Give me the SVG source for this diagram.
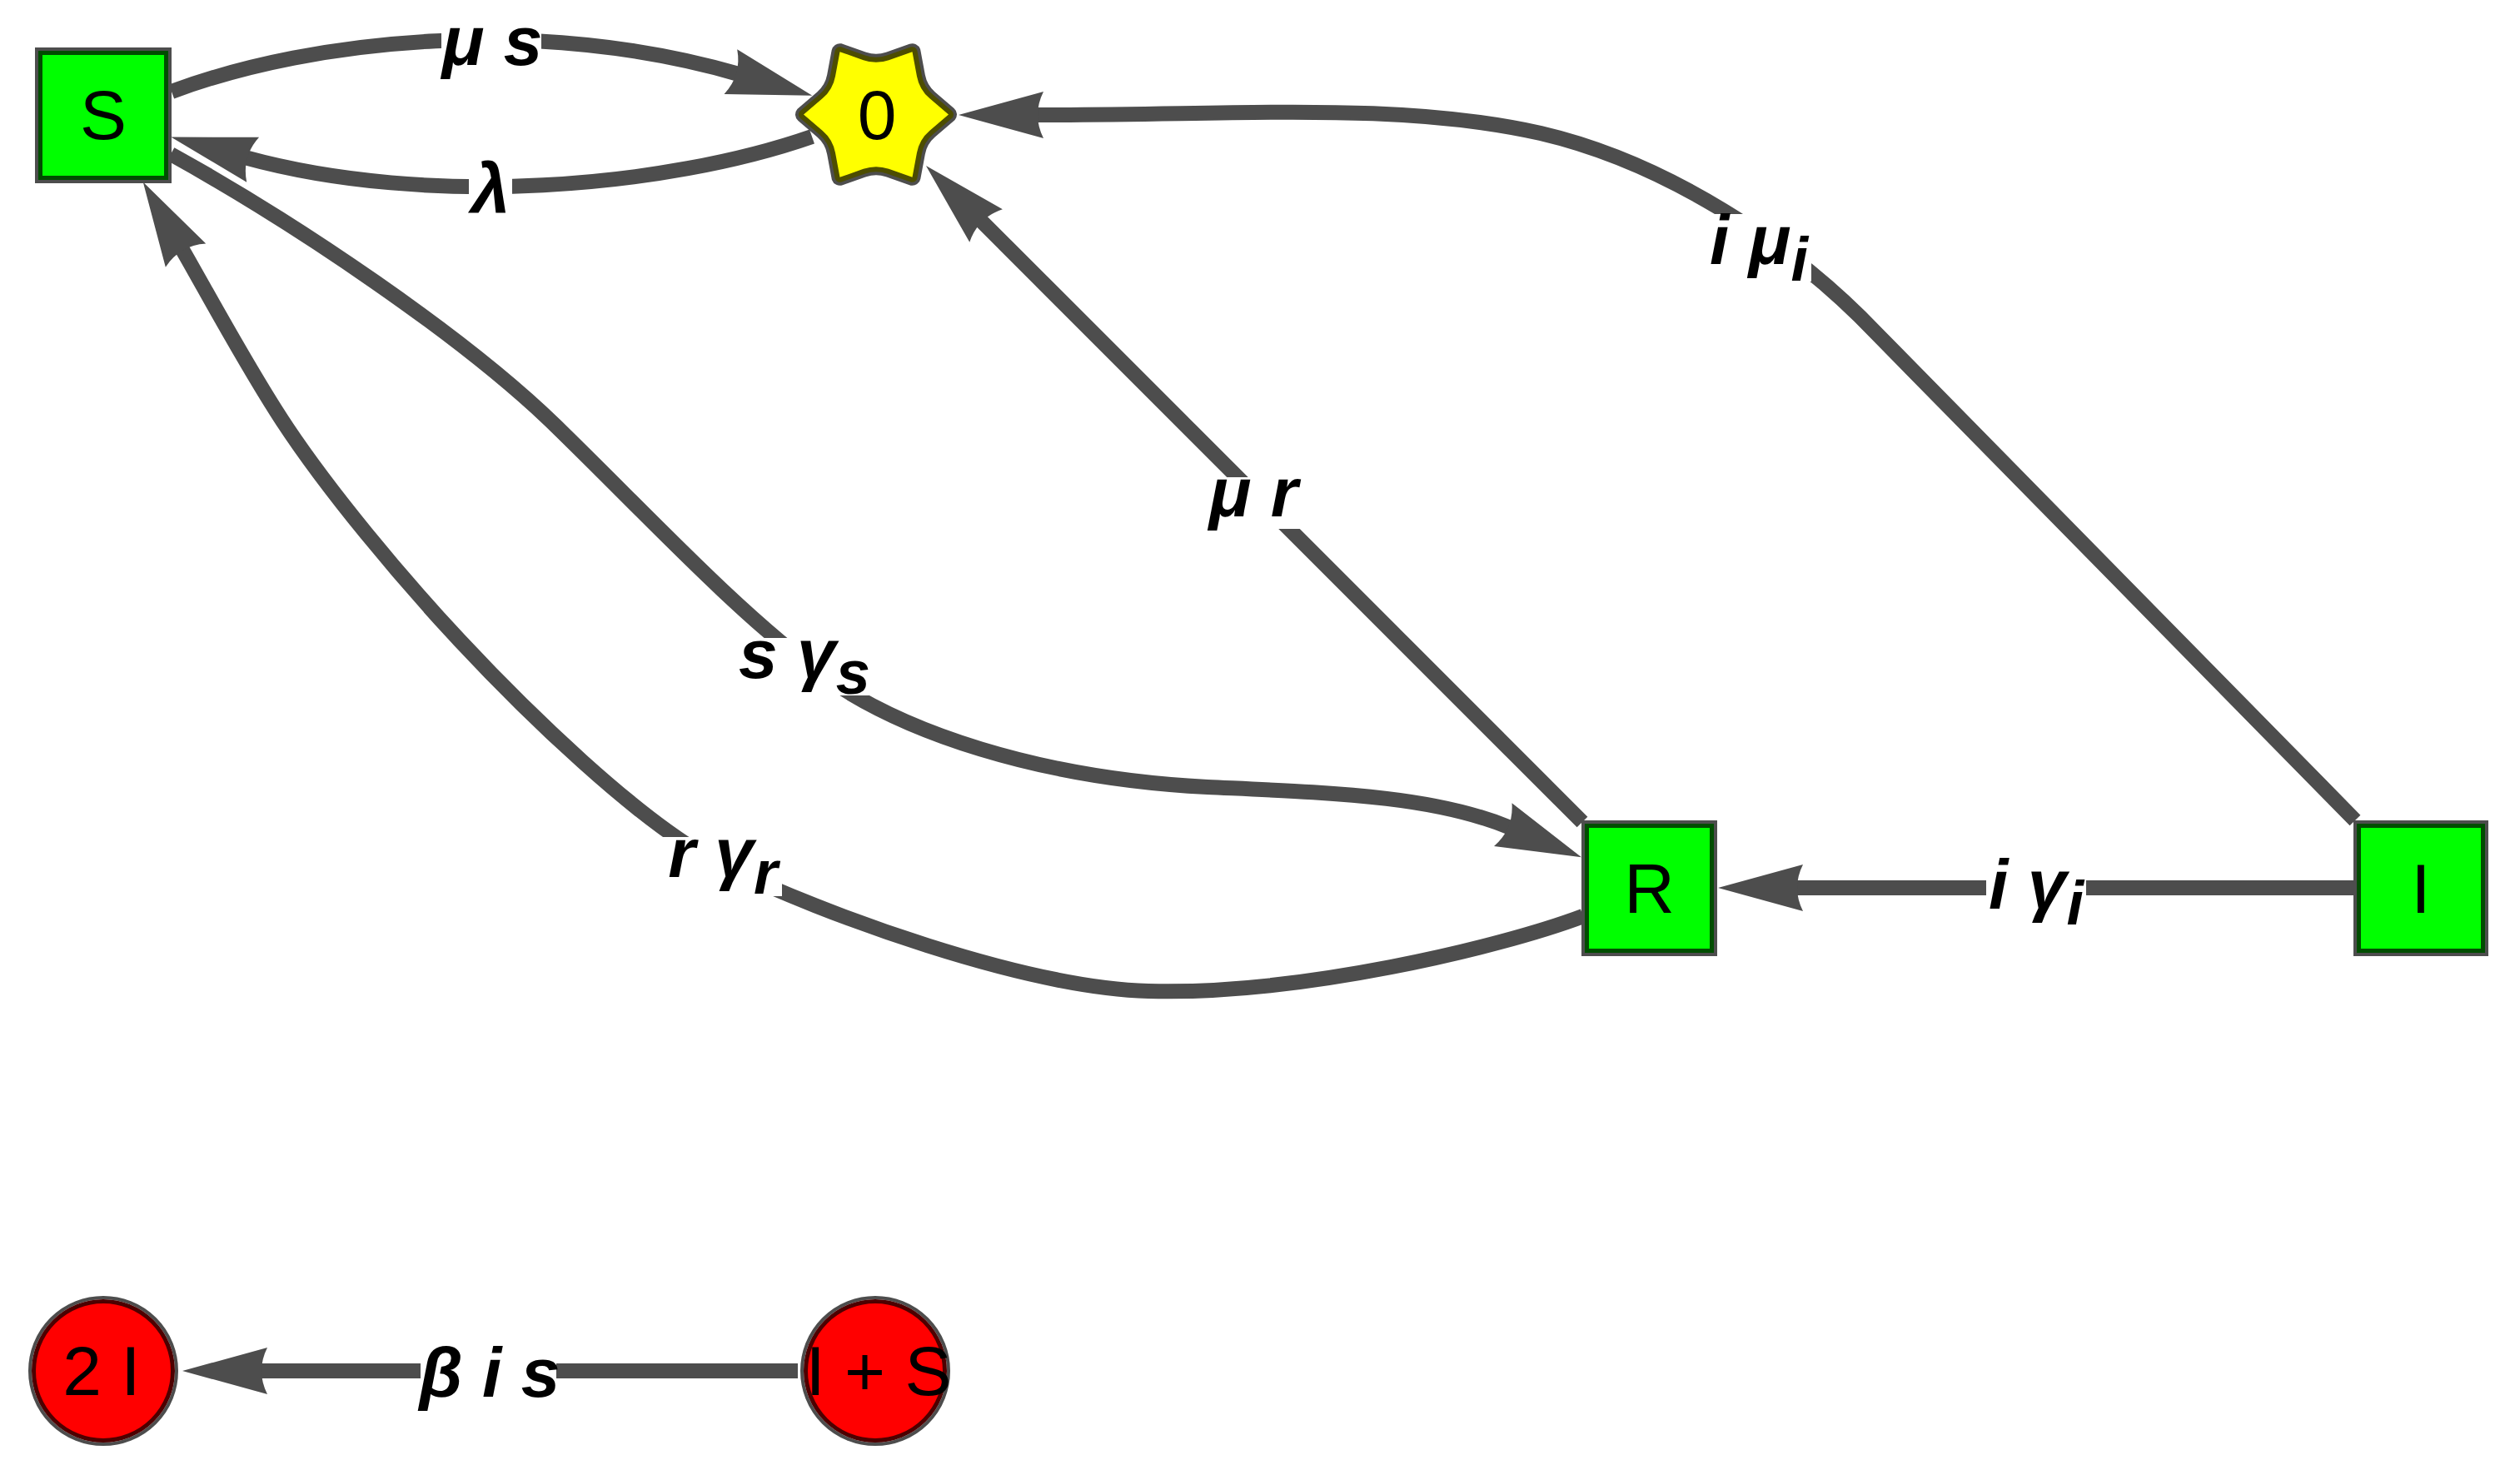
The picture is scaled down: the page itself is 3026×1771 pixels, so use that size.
<svg xmlns="http://www.w3.org/2000/svg" width="3026" height="1771" viewBox="0 0 3026 1771">
<style>
.edge{fill:none;stroke:#4d4d4d;stroke-width:18;marker-end:url(#ah)}
.lbg{fill:#ffffff}
.lbl{font-family:"Liberation Sans",Arial,sans-serif;font-size:84px;font-style:italic;font-weight:bold;fill:#000;text-anchor:middle}
.sub{font-size:74px}
.nlbl{font-family:"Liberation Sans",Arial,sans-serif;font-size:84px;fill:#000;text-anchor:middle}
.sq-o{fill:#00ff00;stroke:#4d4d4d;stroke-width:4}
.sq-i{fill:none;stroke:#004d00;stroke-width:5}
.ci-o{fill:none;stroke:#4d4d4d;stroke-width:4}
.ci-i{fill:#ff0000;stroke:#4d0000;stroke-width:5}
</style>
<defs>
<marker id="ah" markerUnits="userSpaceOnUse" orient="auto" markerWidth="120" markerHeight="70" viewBox="-12 -35 120 70" refX="0" refY="0" overflow="visible">
<path d="M92,0 L-10,-28 Q4,0 -10,28 Z" fill="#4d4d4d"/>
</marker>
<path id="starp" d="M87,0 L64.22,19.5 Q51.96,30 49,45.87 L43.5,75.34 L15.23,65.37 Q0,60 -15.23,65.37 L-43.5,75.34 L-49,45.87 Q-51.96,30 -64.22,19.5 L-87,0 L-64.22,-19.5 Q-51.96,-30 -49,-45.87 L-43.5,-75.34 L-15.23,-65.37 Q0,-60 15.23,-65.37 L43.5,-75.34 L49,-45.87 Q51.96,-30 64.22,-19.5 Z"/>
</defs>
<rect width="3026" height="1771" fill="#ffffff"/>
<g id="connectors">
<path id="e-S-0" class="edge" d="M206,110 C380,45 650,20 887,89"/>
<path id="e-0-S" class="edge" d="M975,164 C800,225 516,250 294,189"/>
<path id="e-S-R" class="edge" d="M205,185 C355,268 557,404 667,511 C777,618 880,730 980,805 C1080,880 1250,935 1450,945 C1600,952 1720,955 1814,994"/>
<path id="e-R-S" class="edge" d="M1901,1100 C1800,1138 1560,1195 1379,1190 C1230,1186 990,1098 870,1040 C770,992 622,844 552,769 C482,694 394,589 339,505 C295,438 243,341 218,298"/>
<path id="e-R-0" class="edge" d="M1900,987 L1177,264"/>
<path id="e-I-0" class="edge" d="M2828,985 L2253,400 C2150,292 2000,195 1850,160 C1680,122 1500,138 1243,138"/>
<path id="e-I-R" class="edge" d="M2827,1066 L2155,1066"/>
<path id="e-IS-2I" class="edge" d="M958,1646 L311,1646"/>
</g>
<g id="edge-labels">
<rect class="lbg" x="530" y="31" width="120" height="64"/>
<text class="lbl" x="591" y="78">μ s</text>
<rect class="lbg" x="563" y="198" width="52" height="62"/>
<text class="lbl" x="589" y="255">λ</text>
<rect class="lbg" x="887" y="766" width="158" height="69"/>
<text class="lbl" x="966" y="814">s γ<tspan class="sub" dy="19">s</tspan></text>
<rect class="lbg" x="796" y="1005" width="143" height="71"/>
<text class="lbl" x="868" y="1053">r γ<tspan class="sub" dy="20">r</tspan></text>
<rect class="lbg" x="1445" y="573" width="120" height="62"/>
<text class="lbl" x="1505" y="620">μ r</text>
<rect class="lbg" x="2050" y="257" width="125" height="81"/>
<text class="lbl" x="2112" y="317">i μ<tspan class="sub" dy="20">i</tspan></text>
<rect class="lbg" x="2385" y="1028" width="120" height="83"/>
<text class="lbl" x="2445" y="1091">i γ<tspan class="sub" dy="19">i</tspan></text>
<rect class="lbg" x="505" y="1612" width="163" height="83"/>
<text class="lbl" x="588" y="1677">β i s</text>
</g>
<g id="node-S">
<rect class="sq-o" x="44" y="59" width="160" height="159"/>
<rect class="sq-i" x="48.5" y="63.5" width="151" height="150"/>
<text class="nlbl" x="124" y="167">S</text>
</g>
<g id="node-0" transform="translate(1052,137.5)">
<use href="#starp" fill="none" stroke="#4d4d4d" stroke-width="20" stroke-linejoin="round"/>
<use href="#starp" fill="none" stroke="#4d4d00" stroke-width="12" stroke-linejoin="round"/>
<use href="#starp" fill="#ffff00"/>
<text class="nlbl" x="1" y="29.5">0</text>
</g>
<g id="node-R">
<rect class="sq-o" x="1901" y="987" width="159" height="159"/>
<rect class="sq-i" x="1905.5" y="991.5" width="150" height="150"/>
<text class="nlbl" x="1980.5" y="1096">R</text>
</g>
<g id="node-I">
<rect class="sq-o" x="2828" y="987" width="158" height="159"/>
<rect class="sq-i" x="2832.5" y="991.5" width="149" height="150"/>
<text class="nlbl" x="2907" y="1096">I</text>
</g>
<g id="node-2I">
<circle class="ci-o" cx="124" cy="1646" r="88"/>
<circle class="ci-i" cx="124" cy="1646" r="83.5"/>
<text class="nlbl" x="122" y="1675">2 I</text>
</g>
<g id="node-IS">
<circle class="ci-o" cx="1051" cy="1646" r="88"/>
<circle class="ci-i" cx="1051" cy="1646" r="83.5"/>
<text class="nlbl" x="1055" y="1675">I + S</text>
</g>
</svg>
